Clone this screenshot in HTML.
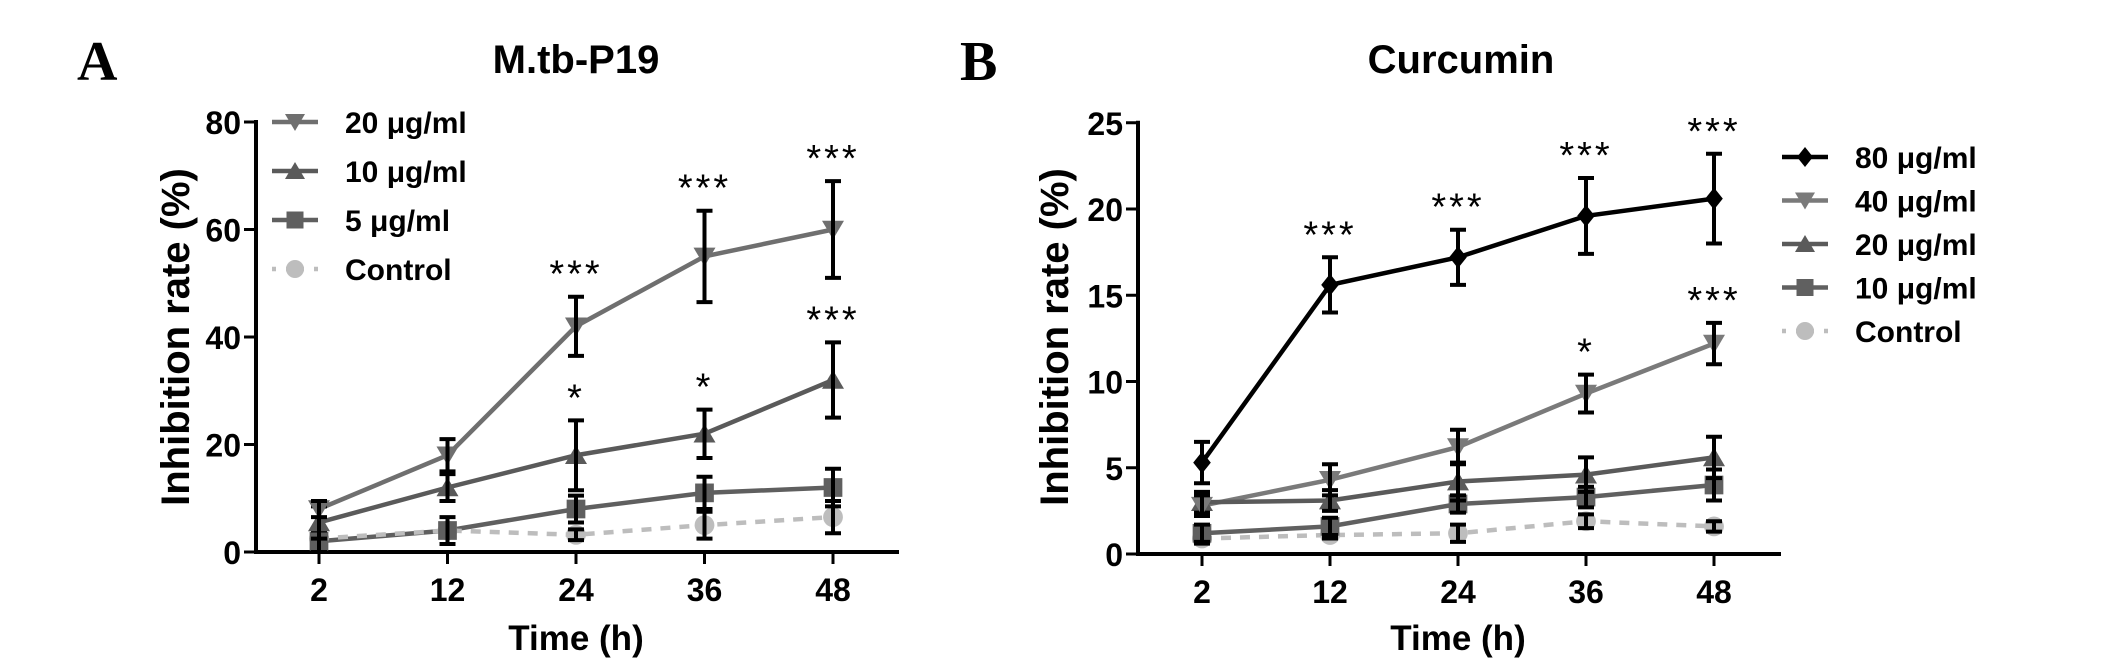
<!DOCTYPE html>
<html><head><meta charset="utf-8"><style>
html,body{margin:0;padding:0;background:#fff;}
svg{display:block;font-family:"Liberation Sans",Arial,sans-serif;}
</style></head><body>
<svg id="fig" width="2126" height="669" viewBox="0 0 2126 669">
<text x="77" y="80" font-family="Liberation Serif,serif" font-weight="bold" font-size="56">A</text>
<text x="960" y="80" font-family="Liberation Serif,serif" font-weight="bold" font-size="56">B</text>
<text x="576" y="73" text-anchor="middle" font-weight="bold" font-size="40">M.tb-P19</text>
<text x="1461" y="73" text-anchor="middle" font-weight="bold" font-size="40">Curcumin</text>
<g id="pa"></g>
<g id="pb"></g>
</svg>
<script>
const categories = ["2","12","24","36","48"];
// Panel A
const aTicks = [0,20,40,60,80];
const a20 = [8,18,42,55,60];   const a20e = [1.5,3,5.5,8.5,9];
const a10 = [5.5,12,18,22,32]; const a10e = [3,2.5,6.5,4.5,7];
const a5 = [2,4,8,11,12];      const a5e = [2,2.5,2.5,3,3.5];
const aC = [2.5,4,3.2,5,6.5];  const aCe = [1,1,1,2.5,3];
const a20s = ["","","***","***","***"];
const a10s = ["","","*","*","***"];
// Panel B
const bTicks = [0,5,10,15,20,25];
const b80 = [5.3,15.6,17.2,19.6,20.6]; const b80e = [1.2,1.6,1.6,2.2,2.6];
const b40 = [2.8,4.3,6.2,9.3,12.2];    const b40e = [0.6,0.9,1,1.1,1.2];
const b20 = [3,3.1,4.2,4.6,5.6];       const b20e = [0.6,0.6,1.1,1,1.2];
const b10 = [1.2,1.6,2.9,3.3,4.0];     const b10e = [0.5,0.5,0.5,0.6,0.9];
const bC = [0.9,1.1,1.2,1.9,1.6];      const bCe = [0.3,0.2,0.5,0.4,0.3];
const b80s = ["","***","***","***","***"];
const b40s = ["","","","*","***"];

const NS="http://www.w3.org/2000/svg";
function mk(p,tag,at){const e=document.createElementNS(NS,tag);for(const k in at)e.setAttribute(k,at[k]);p.appendChild(e);return e;}

function marker(g,shape,x,y,col,s){
  let e;
  if(shape==="down") e=mk(g,"polygon",{points:`${x-s},${y-s*0.8} ${x+s},${y-s*0.8} ${x},${y+s*0.9}`,fill:col});
  else if(shape==="up") e=mk(g,"polygon",{points:`${x-s},${y+s*0.8} ${x+s},${y+s*0.8} ${x},${y-s*0.9}`,fill:col});
  else if(shape==="sq") e=mk(g,"rect",{x:x-s*0.85,y:y-s*0.85,width:s*1.7,height:s*1.7,fill:col});
  else if(shape==="dia") e=mk(g,"polygon",{points:`${x},${y-s} ${x+s*0.8},${y} ${x},${y+s} ${x-s*0.8},${y}`,fill:col});
  else e=mk(g,"circle",{cx:x,cy:y,r:s*0.9,fill:col});
  return e;
}

function panel(cfg){
  const g=document.getElementById(cfg.id);
  const X=i=>cfg.x0+i*cfg.dx;
  const Y=v=>cfg.y0-v*cfg.k;
  let e=mk(g,"line",{x1:cfg.ax,y1:cfg.y0,x2:cfg.ax,y2:Y(cfg.ticks[cfg.ticks.length-1])-2,stroke:"#000","stroke-width":4});
  
  
  e=mk(g,"line",{x1:cfg.ax-2,y1:cfg.y0,x2:cfg.axEnd,y2:cfg.y0,stroke:"#000","stroke-width":4});
  
  
  cfg.ticks.forEach(t=>{
    mk(g,"line",{x1:cfg.ax-12,y1:Y(t),x2:cfg.ax,y2:Y(t),stroke:"#000","stroke-width":3});
    const tx=mk(g,"text",{x:cfg.ax-15,y:Y(t)+12,"text-anchor":"end","font-weight":"bold","font-size":32});
    tx.textContent=t;
    
    
  });
  categories.forEach((c,i)=>{
    mk(g,"line",{x1:X(i),y1:cfg.y0,x2:X(i),y2:cfg.y0+12,stroke:"#000","stroke-width":3});
    const tx=mk(g,"text",{x:X(i),y:cfg.y0+49,"text-anchor":"middle","font-weight":"bold","font-size":32});
    tx.textContent=c;
    
    
  });
  let t=mk(g,"text",{x:X(2),y:650,"text-anchor":"middle","font-weight":"bold","font-size":35});
  t.textContent="Time (h)";
  
  
  t=mk(g,"text",{x:0,y:0,"text-anchor":"middle","font-weight":"bold","font-size":40,transform:`translate(${cfg.ytx},337) rotate(-90)`});
  t.textContent="Inhibition rate (%)";
  
  
  cfg.series.forEach(s=>{
    const pts=s.v.map((v,i)=>X(i)+","+Y(v)).join(" ");
    const pl=mk(g,"polyline",{points:pts,fill:"none",stroke:s.col,"stroke-width":4.5,"stroke-dasharray":s.dash?"10,9":"none"});
    
    
  });
  cfg.series.slice().reverse().forEach(s=>{
    s.v.forEach((v,i)=>{
      const m=marker(g,s.shape,X(i),Y(v),s.mcol||s.col,11);
      
      
      const hi=Y(v+s.e[i]),lo=Y(v-s.e[i]);
      const eb=mk(g,"path",{d:`M${X(i)},${hi}V${lo}M${X(i)-8},${hi}H${X(i)+8}M${X(i)-8},${lo}H${X(i)+8}`,stroke:"#000","stroke-width":4,fill:"none"});
      
      
      if(s.stars&&s.stars[i]){
        const st=mk(g,"text",{x:X(i),y:hi-10,"text-anchor":"middle","font-size":38,"letter-spacing":"3"});
        st.textContent=s.stars[i];
        
        
      }
    });
  });
  cfg.series.forEach((s,j)=>{
    const ly=cfg.ly+j*cfg.lgap;
    const lg=mk(g,"g",{});
    
    
    mk(lg,"line",{x1:cfg.lx,y1:ly,x2:cfg.lx+46,y2:ly,stroke:s.col,"stroke-width":4.5,"stroke-dasharray":s.dash?"4,10":"none"});
    marker(lg,s.shape,cfg.lx+23,ly,s.mcol||s.col,10);
    const lt=mk(lg,"text",{x:cfg.lx+73,y:ly+11,"font-weight":"bold","font-size":30});
    lt.textContent=s.label;
  });
}

panel({id:"pa",ax:256,axEnd:899,x0:319,dx:128.5,y0:552,k:5.375,ticks:aTicks,ytx:189,lx:272,ly:122,lgap:49,
  series:[
    {name:"20ug",label:"20 \u03bcg/ml",v:a20,e:a20e,col:"#6f6f6f",shape:"down",stars:a20s},
    {name:"10ug",label:"10 \u03bcg/ml",v:a10,e:a10e,col:"#5a5a5a",shape:"up",stars:a10s},
    {name:"5ug",label:"5 \u03bcg/ml",v:a5,e:a5e,col:"#5f5f5f",shape:"sq"},
    {name:"control",label:"Control",v:aC,e:aCe,col:"#bdbdbd",shape:"circ",dash:true}
  ]});
panel({id:"pb",ax:1138,axEnd:1781,x0:1202,dx:128,y0:554,k:17.25,ticks:bTicks,ytx:1068,lx:1782,ly:157,lgap:43.5,
  series:[
    {name:"80ug",label:"80 \u03bcg/ml",v:b80,e:b80e,col:"#000",shape:"dia",stars:b80s},
    {name:"40ug",label:"40 \u03bcg/ml",v:b40,e:b40e,col:"#7a7a7a",shape:"down",stars:b40s},
    {name:"20ug",label:"20 \u03bcg/ml",v:b20,e:b20e,col:"#5a5a5a",shape:"up"},
    {name:"10ug",label:"10 \u03bcg/ml",v:b10,e:b10e,col:"#606060",shape:"sq"},
    {name:"control",label:"Control",v:bC,e:bCe,col:"#bdbdbd",shape:"circ",dash:true}
  ]});
</script>
</body></html>
